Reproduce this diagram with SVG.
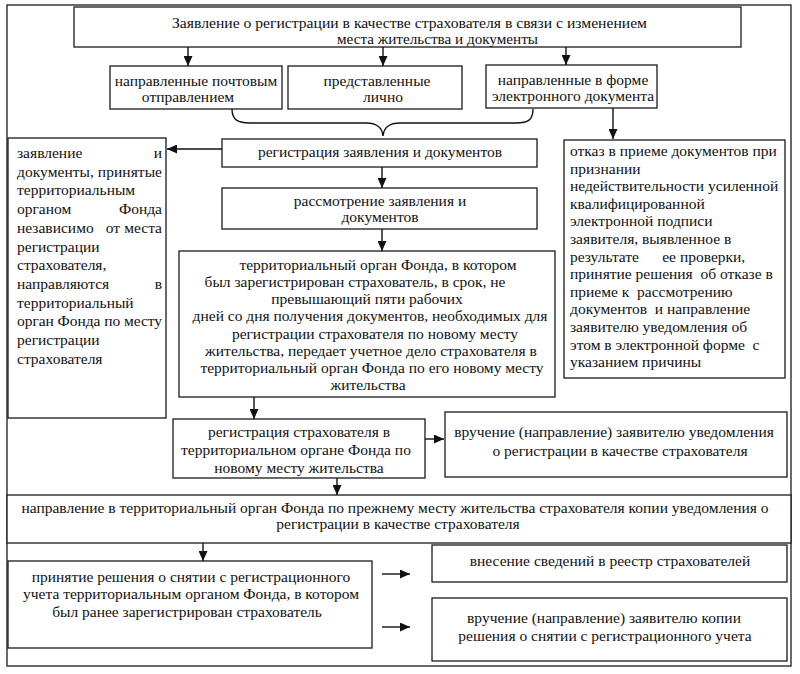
<svg xmlns="http://www.w3.org/2000/svg" width="800" height="674" viewBox="0 0 800 674">
<defs>
<marker id="ah" markerUnits="userSpaceOnUse" markerWidth="10" markerHeight="9" refX="10" refY="4.5" orient="auto">
<path d="M0,0 L10,4.5 L0,9 z" fill="#111"/>
</marker>
<style>
.b{fill:#fff;stroke:#1a1a1a;stroke-width:1.3}
.t{font-family:"Liberation Serif","Times New Roman",serif;font-size:15.5px;fill:#111}
.m{text-anchor:middle}
.e{text-anchor:end}
.c{stroke:#111;stroke-width:1.4;fill:none}
.a{marker-end:url(#ah)}
</style>
</defs>
<rect x="0" y="0" width="800" height="674" fill="#fff"/>
<rect id="frame" x="7" y="5" width="784" height="661" fill="none" stroke="#1a1a1a" stroke-width="1.3"/>

<g id="n_top"><rect class="b" x="74" y="7" width="667" height="40"/>
<text class="t" x="172" y="28" textLength="475" lengthAdjust="spacingAndGlyphs">Заявление о регистрации в качестве страхователя в  связи с изменением</text>
<text class="t" x="337" y="44" textLength="201" lengthAdjust="spacingAndGlyphs">места жительства и документы</text></g>

<g id="n_post"><rect class="b" x="110" y="66" width="172" height="43"/>
<text class="t m" x="196" y="86">направленные почтовым</text>
<text class="t m" x="188" y="102">отправлением</text></g>

<g id="n_personal"><rect class="b" x="288" y="66" width="174" height="43"/>
<text class="t m" x="377" y="86">представленные</text>
<text class="t m" x="383" y="102">лично</text></g>

<g id="n_electronic"><rect class="b" x="486" y="65" width="171" height="43"/>
<text class="t m" x="573" y="85">направленные в форме</text>
<text class="t m" x="573" y="101">электронного документа</text></g>

<g id="n_reg_app"><rect class="b" x="222" y="139" width="315" height="28"/>
<text class="t m" x="380" y="157">регистрация заявления и документов</text></g>

<g id="n_left"><rect class="b" x="8" y="138" width="158" height="280"/>
<text class="t" x="17" y="158">заявление</text><text class="t e" x="162" y="158">и</text>
<text class="t" x="17" y="176.7" textLength="145" lengthAdjust="spacing">документы, принятые</text>
<text class="t" x="17" y="195.4">территориальным</text>
<text class="t" x="17" y="214.1">органом</text><text class="t e" x="162" y="214.1">Фонда</text>
<text class="t" x="17" y="232.8">независимо</text><text class="t m" x="113" y="232.8">от</text><text class="t e" x="162" y="232.8">места</text>
<text class="t" x="17" y="251.5">регистрации</text>
<text class="t" x="17" y="270.2">страхователя,</text>
<text class="t" x="17" y="288.9">направляются</text><text class="t e" x="162" y="288.9">в</text>
<text class="t" x="17" y="307.6">территориальный</text>
<text class="t" x="17" y="326.3" textLength="145" lengthAdjust="spacing">орган Фонда по месту</text>
<text class="t" x="17" y="345">регистрации</text>
<text class="t" x="17" y="363.7">страхователя</text></g>

<g id="n_review"><rect class="b" x="222" y="188" width="315" height="41"/>
<text class="t m" x="380" y="206">рассмотрение заявления и</text>
<text class="t m" x="380" y="222">документов</text></g>

<g id="n_big"><rect class="b" x="179" y="251" width="376" height="146"/>
<text class="t m" x="378" y="270">территориальный орган Фонда, в котором</text>
<text class="t m" x="355" y="287.1">был зарегистрирован страхователь, в срок, не</text>
<text class="t m" x="367" y="304.3">превышающий пяти рабочих</text>
<text class="t m" x="370" y="321.4">дней со дня получения документов, необходимых для</text>
<text class="t m" x="375" y="338.6">регистрации страхователя по новому месту</text>
<text class="t m" x="371" y="355.7">жительства, передает учетное дело страхователя в</text>
<text class="t m" x="372" y="372.9">территориальный орган Фонда по его новому месту</text>
<text class="t m" x="368" y="390">жительства</text></g>

<g id="n_refuse"><rect class="b" x="564" y="140" width="221" height="238"/>
<text class="t" x="570" y="156">отказ в приеме документов при</text>
<text class="t" x="570" y="173.6">признании</text>
<text class="t" x="570" y="191.2">недействительности усиленной</text>
<text class="t" x="570" y="208.8">квалифицированной</text>
<text class="t" x="570" y="226.4">электронной подписи</text>
<text class="t" x="570" y="244">заявителя, выявленное в</text>
<text class="t" x="570" y="261.6" xml:space="preserve">результате      ее проверки,</text>
<text class="t" x="570" y="279.2" xml:space="preserve">принятие решения  об отказе в</text>
<text class="t" x="570" y="296.8" xml:space="preserve">приеме к  рассмотрению</text>
<text class="t" x="570" y="314.4" xml:space="preserve">документов  и направление</text>
<text class="t" x="570" y="332">заявителю уведомления об</text>
<text class="t" x="570" y="349.6" xml:space="preserve">этом в электронной форме  с</text>
<text class="t" x="570" y="367.2">указанием причины</text></g>

<g id="n_reg_ins"><rect class="b" x="173" y="419" width="252" height="59"/>
<text class="t m" x="299" y="437">регистрация страхователя в</text>
<text class="t m" x="296" y="455">территориальном органе Фонда по</text>
<text class="t m" x="299" y="473">новому месту жительства</text></g>

<g id="n_notify"><rect class="b" x="445" y="412" width="342" height="65"/>
<text class="t m" x="614" y="437">вручение (направление) заявителю уведомления</text>
<text class="t m" x="620" y="456">о регистрации в качестве страхователя</text></g>

<g id="n_wide"><rect class="b" x="7" y="495" width="784" height="48"/>
<text class="t m" x="395" y="513">направление в территориальный орган Фонда по прежнему месту жительства страхователя копии уведомления о</text>
<text class="t m" x="398" y="529">регистрации в качестве страхователя</text></g>

<g id="n_decision"><rect class="b" x="8" y="561" width="364" height="87"/>
<text class="t m" x="191" y="582">принятие решения о снятии с регистрационного</text>
<text class="t m" x="191" y="599">учета территориальным органом Фонда, в котором</text>
<text class="t m" x="187" y="617">был ранее зарегистрирован страхователь</text></g>

<g id="n_registry"><rect class="b" x="432" y="545" width="355" height="37"/>
<text class="t m" x="610" y="566">внесение сведений в реестр страхователей</text></g>

<g id="n_copy"><rect class="b" x="432" y="598" width="355" height="63"/>
<text class="t m" x="604" y="623">вручение (направление) заявителю копии</text>
<text class="t m" x="605" y="641">решения о снятии с регистрационного учета</text></g>

<g id="connectors">
<line class="c a" x1="188" y1="47" x2="188" y2="66"/>
<line class="c a" x1="383" y1="47" x2="383" y2="66"/>
<line class="c a" x1="566" y1="47" x2="566" y2="65"/>
<path class="c" d="M232,109 C232,120 238,123 250,123 L366,123 C377,123 382,127 383,136 C384,127 389,123 400,123 L516,123 C528,123 533,120 533,109"/>
<line class="c a" x1="222" y1="149" x2="167" y2="149"/>
<line class="c a" x1="382" y1="167" x2="382" y2="188"/>
<line class="c a" x1="382" y1="229" x2="382" y2="251"/>
<line class="c a" x1="613" y1="108" x2="613" y2="139"/>
<line class="c a" x1="254" y1="397" x2="254" y2="419"/>
<line class="c a" x1="425" y1="439" x2="444" y2="439"/>
<line class="c a" x1="337" y1="478" x2="337" y2="495"/>
<line class="c a" x1="203" y1="543" x2="203" y2="561"/>
<line class="c a" x1="382" y1="574" x2="410" y2="574"/>
<line class="c a" x1="382" y1="627" x2="410" y2="627"/>
</g>
</svg>
